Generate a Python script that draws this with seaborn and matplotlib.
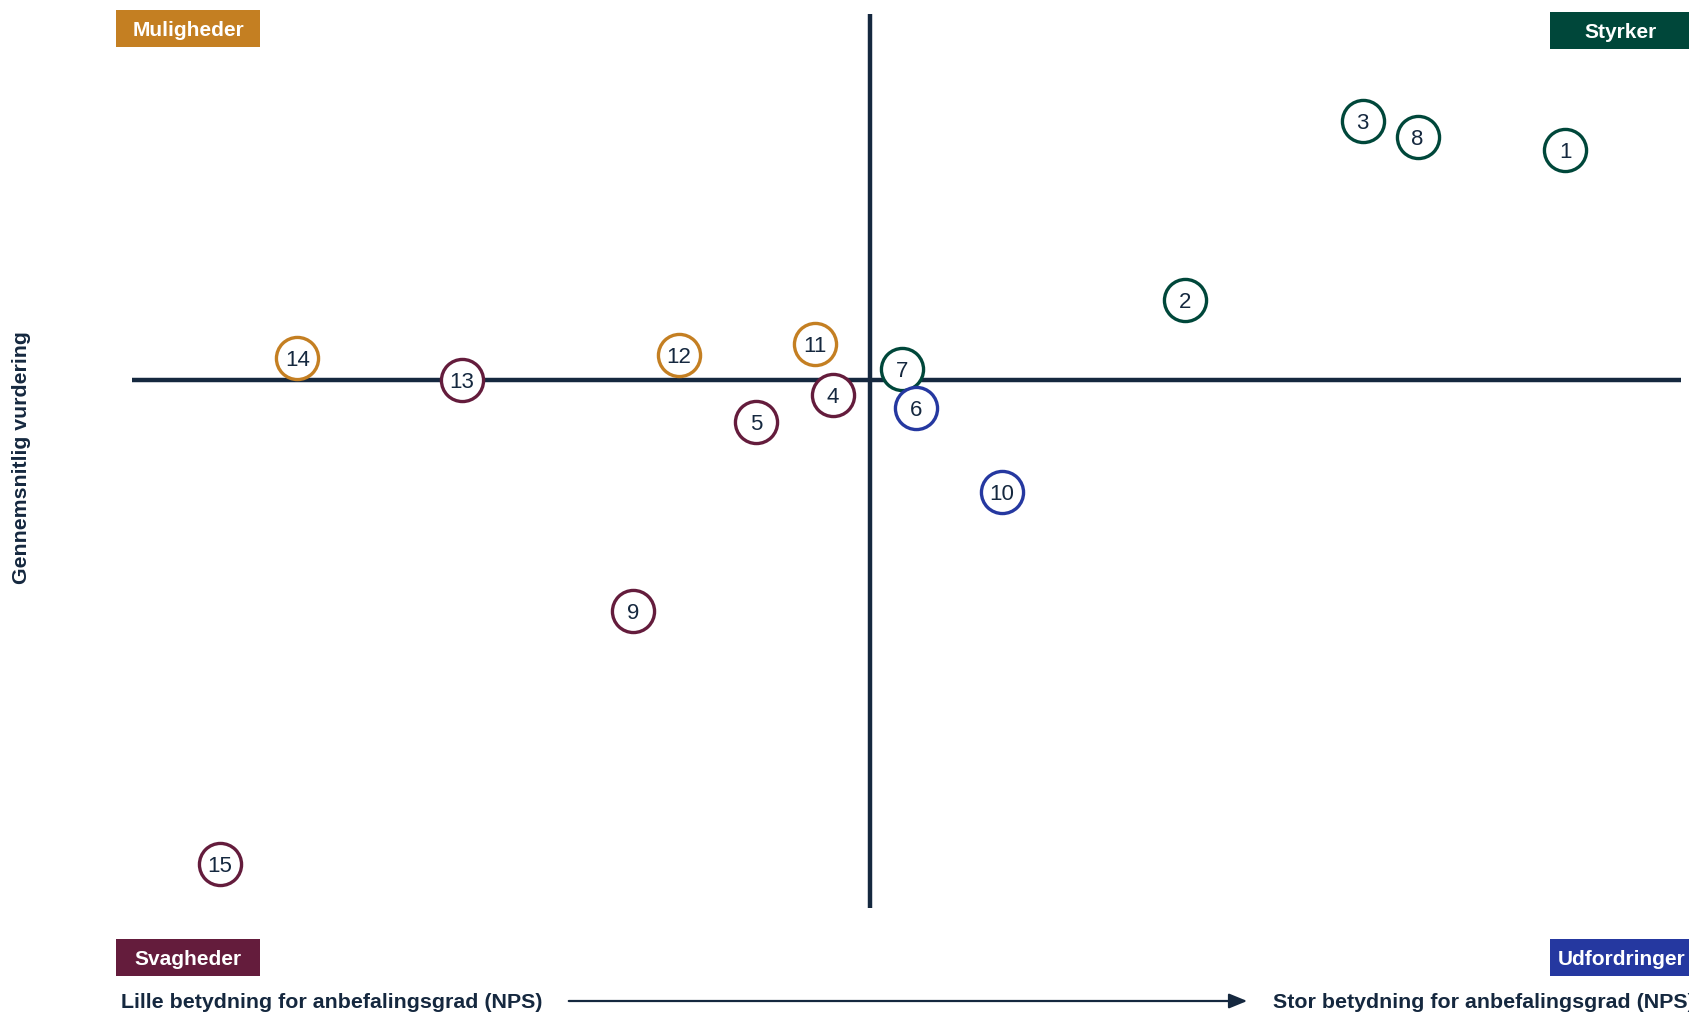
import matplotlib
matplotlib.use("Agg")
import matplotlib.pyplot as plt
from matplotlib.patches import Rectangle, FancyArrowPatch
import seaborn as sns
import pandas as pd

sns.set_theme(style="white")
plt.rcParams['font.family'] = ['Liberation Sans', 'DejaVu Sans']

# Data (importance for NPS vs average rating, relative to the quadrant crossing)
labels = [1, 2, 3, 4, 5, 6, 7, 8, 9, 10, 11, 12, 13, 14, 15]
importance = [64.5, 29.2, 45.7, -3.5, -10.6, 4.2, 2.9, 50.8, -22.0, 12.2, -5.1, -17.8, -37.9, -53.2, -60.4]
rating = [21.4, 7.5, 24.1, -1.4, -3.9, -2.6, 1.1, 22.6, -21.4, -10.4, 3.4, 2.4, 0.0, 2.1, -44.9]
group = ["Styrker", "Styrker", "Styrker", "Svagheder", "Svagheder", "Udfordringer", "Styrker",
         "Styrker", "Svagheder", "Udfordringer", "Muligheder", "Muligheder", "Svagheder",
         "Muligheder", "Svagheder"]

palette = {"Styrker": "#00473a", "Muligheder": "#c47f22",
           "Svagheder": "#641c3c", "Udfordringer": "#2538a0"}
navy = "#15283f"

df = pd.DataFrame({"label": labels, "x": importance, "y": rating, "group": group})

fig = plt.figure(figsize=(16.89, 10.14), dpi=100)
ax = fig.add_axes([0, 0, 1, 1])
ax.set_xlim(-80.8, 76.0)
ax.set_ylim(-58.8, 35.3)
ax.axis("off")

# quadrant lines
ax.plot([-68.5, 75.3], [0, 0], color=navy, lw=3.2, zorder=1, solid_capstyle="butt")
ax.plot([0, 0], [-49, 34], color=navy, lw=3.2, zorder=1, solid_capstyle="butt")

for g, sub in df.groupby("group"):
    sns.scatterplot(data=sub, x="x", y="y", ax=ax, s=920, color="white",
                    edgecolor=palette[g], linewidth=2.4, zorder=3, legend=False)
for _, r in df.iterrows():
    ax.text(r["x"], r["y"], str(r["label"]), ha="center", va="center_baseline",
            fontsize=16, color=navy, zorder=4)
ax.set_xlabel("")
ax.set_ylabel("")

W, H = 1689, 1014
def box(x0, y0, x1, y1, color, text, tx=None):
    fig.patches.append(Rectangle((x0 / W, 1 - y1 / H), (x1 - x0) / W, (y1 - y0) / H,
                                 transform=fig.transFigure, facecolor=color,
                                 edgecolor="none", zorder=5))
    cx = (x0 + x1) / 2 if tx is None else tx
    fig.text(cx / W, 1 - ((y0 + y1) / 2 + 2) / H, text, ha="center", va="center",
             color="white", fontsize=15, fontweight="bold", zorder=6)

box(116, 10, 260, 47, palette["Muligheder"], "Muligheder")
box(1550, 12, 1689, 49, palette["Styrker"], "Styrker", 1621)
box(116, 939, 260, 976, palette["Svagheder"], "Svagheder")
box(1550, 939, 1689, 976, palette["Udfordringer"], "Udfordringer", 1622)

fig.text(121 / W, 1 - 1002 / H, "Lille betydning for anbefalingsgrad (NPS)",
         ha="left", va="center", fontsize=15.4, fontweight="bold", color=navy)
fig.text(1273 / W, 1 - 1002 / H, "Stor betydning for anbefalingsgrad (NPS)",
         ha="left", va="center", fontsize=15.4, fontweight="bold", color=navy)
arrow = FancyArrowPatch((566 / W, 1 - 1001 / H), (1250 / W, 1 - 1001 / H),
                        transform=fig.transFigure, arrowstyle="-|>,head_length=11,head_width=4.5",
                        color=navy, lw=1.6, mutation_scale=1.0)
fig.patches.append(arrow)
fig.text(21.5 / W, 1 - 458 / H, "Gennemsnitlig vurdering", rotation=90,
         ha="center", va="center", fontsize=15.3, fontweight="bold", color=navy)

fig.savefig("out.png", dpi=100)
